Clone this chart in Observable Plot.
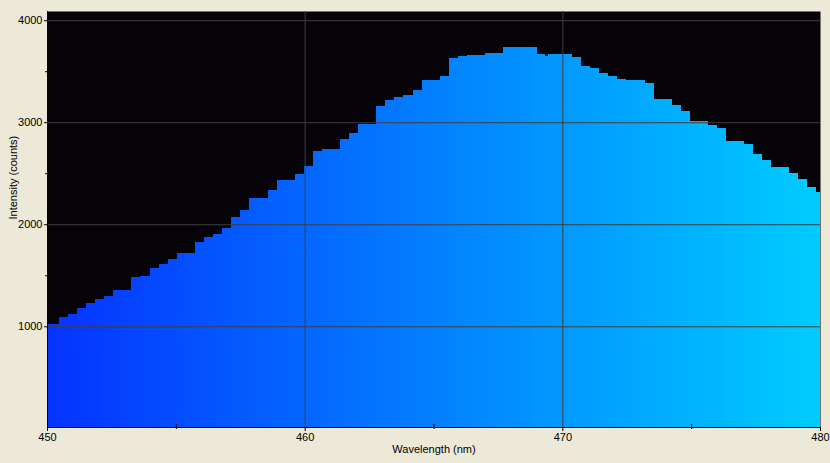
<!DOCTYPE html>
<html>
<head>
<meta charset="utf-8">
<script src="https://cdn.jsdelivr.net/npm/d3@7"></script>
<script src="https://cdn.jsdelivr.net/npm/@observablehq/plot@0.6"></script>
<style>
  html, body { margin: 0; padding: 0; background: #ECE9D8; }
  #chart { width: 830px; height: 463px; }
</style>
</head>
<body>
<div id="chart"></div>
<script>
// Left edge (nm) of each spectrometer step, and its intensity (counts)
const wavelength = [
  449.80, 450.45, 450.80, 451.15, 451.50, 451.85, 452.20, 452.55, 452.90, 453.25,
  453.60, 453.99, 454.33, 454.68, 455.03, 455.38, 455.73, 456.08, 456.43, 456.78,
  457.13, 457.48, 457.83, 458.18, 458.56, 458.91, 459.26, 459.61, 459.96, 460.31,
  460.66, 461.01, 461.36, 461.71, 462.06, 462.41, 462.76, 463.10, 463.45, 463.80,
  464.19, 464.54, 464.89, 465.24, 465.59, 465.94, 466.29, 466.64, 466.99, 467.33,
  467.68, 468.01, 468.34, 468.67, 469.00, 469.31, 469.43, 469.74, 470.05, 470.38,
  470.73, 471.08, 471.43, 471.78, 472.13, 472.48, 472.84, 473.21, 473.56, 473.91,
  474.26, 474.61, 474.96, 475.31, 475.66, 476.01, 476.36, 476.71, 477.06, 477.40,
  477.75, 478.10, 478.45, 478.80, 479.15, 479.50, 479.85
];
const intensity = [
  1023, 1091, 1121, 1179, 1228, 1268, 1297, 1356, 1356, 1483,
  1493, 1572, 1611, 1660, 1719, 1719, 1826, 1875, 1905, 1964,
  2072, 2140, 2258, 2258, 2336, 2434, 2434, 2493, 2572, 2719,
  2738, 2738, 2836, 2895, 2983, 2983, 3160, 3219, 3248, 3268,
  3317, 3415, 3415, 3454, 3631, 3650, 3660, 3660, 3679, 3679,
  3738, 3738, 3738, 3738, 3670, 3650, 3670, 3670, 3670, 3640,
  3552, 3533, 3483, 3454, 3424, 3415, 3415, 3385, 3229, 3229,
  3170, 3111, 3013, 3013, 2974, 2944, 2817, 2817, 2787, 2689,
  2630, 2562, 2562, 2503, 2444, 2366, 2317
];
const lastEdge = 480.2;

const xDomain = [450, 480];
const yDomain = [13, 4090];
const xMajorTicks = [450, 460, 470, 480];
const xMinorTicks = [455, 465, 475];
const yMajorTicks = [1000, 2000, 3000, 4000];
const yMinorTicks = [1500, 2500, 3500];
const xGridTicks = [460, 470];
const xLabel = "Wavelength (nm)";
const yLabel = "Intensity (counts)";
const gradientStops = ["#0633ff", "#00ccff"];

const steps = wavelength.map((w, i) => ({
  x1: w,
  x2: i + 1 < wavelength.length ? wavelength[i + 1] : lastEdge,
  y: intensity[i]
}));

function gradientDefs(index, scales) {
  const g = d3.create("svg:g");
  const lg = g.append("defs").append("linearGradient")
    .attr("id", "specGrad")
    .attr("gradientUnits", "userSpaceOnUse")
    .attr("x1", scales.x(xDomain[0])).attr("x2", scales.x(xDomain[1]))
    .attr("y1", 0).attr("y2", 0);
  lg.append("stop").attr("offset", "0%").attr("stop-color", gradientStops[0]);
  lg.append("stop").attr("offset", "100%").attr("stop-color", gradientStops[1]);
  return g.node();
}

const chart = Plot.plot({
  width: 830,
  height: 463,
  marginLeft: 47,
  marginRight: 10,
  marginTop: 11,
  marginBottom: 36,
  style: {
    background: "#ECE9D8",
    color: "black",
    fontFamily: "'Liberation Sans', Arial, sans-serif",
    fontSize: "11px",
    overflow: "visible"
  },
  x: { domain: xDomain, axis: null },
  y: { domain: yDomain, axis: null },
  marks: [
    gradientDefs,
    Plot.frame({ fill: "#050307", stroke: null }),
    Plot.rectY(steps, { x1: "x1", x2: "x2", y: "y", fill: "url(#specGrad)", clip: true, shapeRendering: "crispEdges" }),
    Plot.gridY(yMajorTicks, { stroke: "#423e3e", strokeOpacity: 1 }),
    Plot.gridX(xGridTicks, { stroke: "#423e3e", strokeOpacity: 1 }),
    Plot.ruleY([yDomain[0]], { stroke: "black" }),
    Plot.ruleX([xDomain[0]], { stroke: "black" }),
    Plot.axisY(yMajorTicks, { tickSize: 3, tickPadding: 2, label: null, tickFormat: d => String(d) }),
    Plot.axisY(yMinorTicks, { tickSize: 2, tickFormat: () => "", label: null }),
    Plot.axisX(xMajorTicks, { tickSize: 4, tickPadding: 2, label: null, tickFormat: d => String(d) }),
    Plot.axisX(xMinorTicks, { tickSize: 5, dy: -3, tickFormat: () => "", label: null }),
    Plot.text([xLabel], { frameAnchor: "bottom", dy: 25, fontSize: 11 }),
    Plot.text([yLabel], { frameAnchor: "left", dx: -34, rotate: -90, fontSize: 11 })
  ]
});
document.getElementById("chart").appendChild(chart);
</script>
</body>
</html>
